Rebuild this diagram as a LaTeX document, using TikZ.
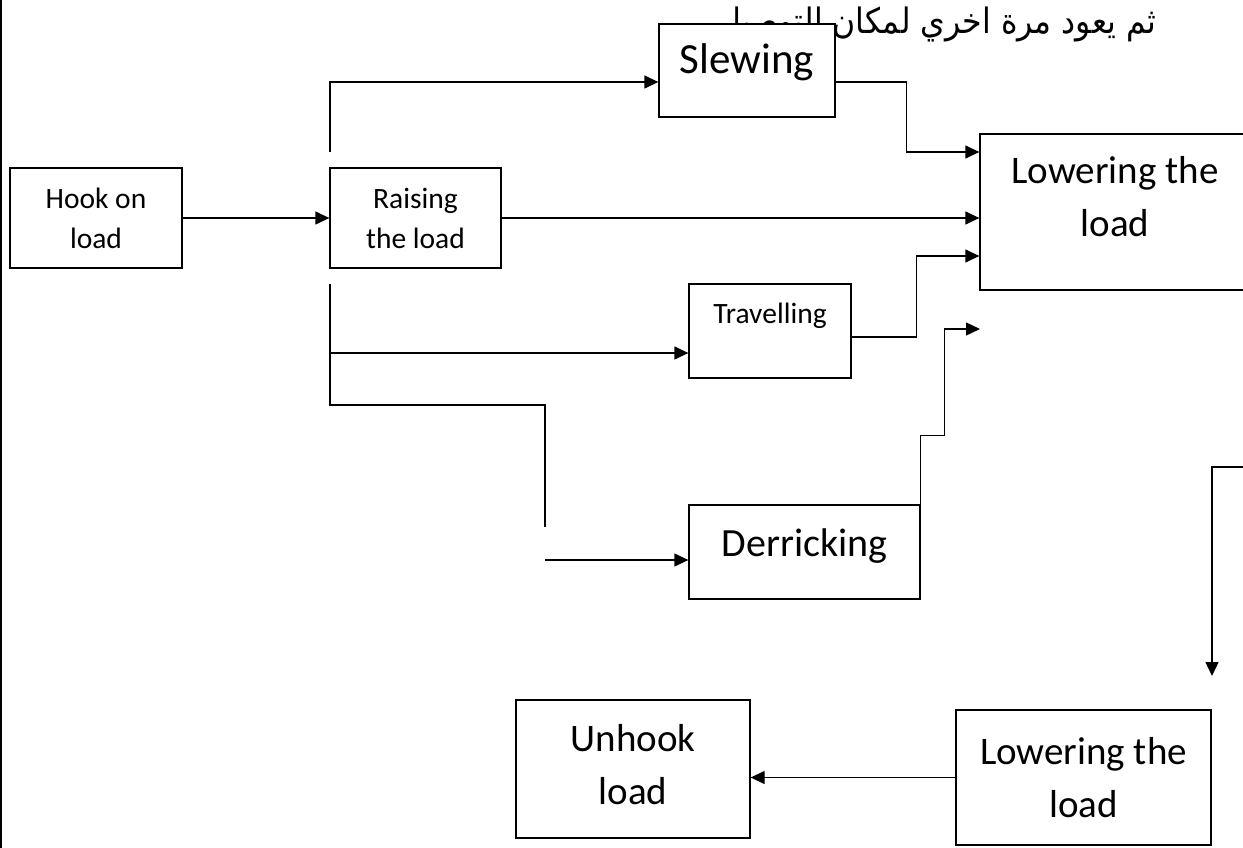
\documentclass[tikz,border=0pt]{standalone}
\usepackage{fontspec}
\setmainfont{Carlito}
\newfontfamily\arabicfont[Script=Arabic,FakeStretch=0.9]{DejaVu Sans}
\TeXXeTstate=1
\usetikzlibrary{arrows.meta}

\tikzset{
  box/.style={shape=rectangle,draw=black,fill=white,align=center,line width=1.3pt,inner sep=0pt},
  small/.style={font=\fontsize{29.5}{40}\selectfont},
  big/.style={font=\fontsize{39}{53}\selectfont},
  lift/.style={text depth=#1},
  wire/.style={-,draw=black,line width=1.3pt},
  arr/.style={-{Triangle[length=14pt,width=13pt]},draw=black,line width=1.3pt}
}

\begin{document}
\begin{tikzpicture}[x=1pt,y=-1pt]
\useasboundingbox (0,0) rectangle (1243,848);
\draw[line width=2pt] (1,0) -- (1,848);

\node[anchor=base east,inner sep=0pt,font=\arabicfont\fontsize{35}{40}\selectfont] (8) at (1156,34) {\beginR ثم يعود مرة اخري لمكان التوصيل\endR};

\node[box,small,minimum width=172pt,minimum height=100pt] (0) at (96,218) {Hook on\\load};
\node[box,small,minimum width=171pt,minimum height=100pt] (1) at (415.5,218) {Raising\\the load};
\node[box,big,font=\fontsize{43}{53}\selectfont,lift=24pt,minimum width=176pt,minimum height=93pt] (2) at (747,70.5) {Slewing};
\node[box,big,lift=32pt,minimum width=270pt,minimum height=156pt] (3) at (1115,212) {Lowering the\\load};
\node[box,small,lift=36pt,minimum width=162pt,minimum height=94pt] (4) at (770,331) {Travelling};
\node[box,big,font=\fontsize{40}{53}\selectfont,lift=19pt,minimum width=231pt,minimum height=94pt] (5) at (804.5,552) {Derricking};
\node[box,big,lift=10pt,minimum width=234pt,minimum height=138pt] (6) at (633,769) {Unhook\\load};
\node[box,big,minimum width=255pt,minimum height=135pt] (7) at (1083.5,777.5) {Lowering the\\load};

\coordinate (a) at (330,152);
\coordinate (b) at (330,284);
\coordinate (c) at (545,527);
\coordinate (d) at (545,560);
\coordinate (e) at (980,329);
\coordinate (f) at (1250,467);
\coordinate (g) at (1212,676);

\path (0) edge[arr] (1);
\path (1.east) edge[arr] (1.east -| 3.west);
\draw [arr] (a) |- ([yshift=-11.5pt]2.west);
\draw [arr] ([yshift=-11.5pt]2.east) -- ++(71,0) |- ([yshift=60pt]3.west);
\draw [arr] ([yshift=-6pt]4.east) -- ++(65,0) |- ([yshift=-44pt]3.west);
\draw [arr] (b) |- ([yshift=-22pt]4.west);
\draw [wire] (b) |- (c |- 0,405) -- (c);
\path (d) edge[arr] (d -| 5.west);
\draw [arr] (5.north east) -- ++(0,-69) -- ++(24,0) |- (e);
\draw [arr] (f) -| (g);
\path (7.west) edge[arr] (7.west -| 6.east);
\end{tikzpicture}
\end{document}
